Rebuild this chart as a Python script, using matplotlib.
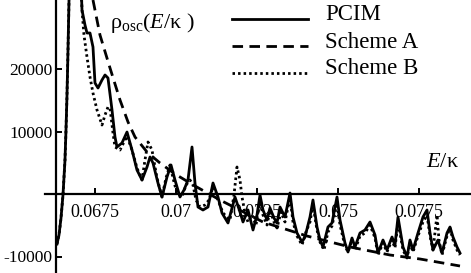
import matplotlib
matplotlib.use("Agg")
import matplotlib.pyplot as plt
from matplotlib.lines import Line2D

plt.rcParams['font.family'] = ['Liberation Serif', 'DejaVu Serif']
plt.rcParams['mathtext.fontset'] = 'custom'
plt.rcParams['mathtext.rm'] = 'Liberation Serif'
plt.rcParams['mathtext.it'] = 'Liberation Serif:italic'

# ---- data ----
pcim_x = [0.066327, 0.066389, 0.066451, 0.066512, 0.066574, 0.066605, 0.066636, 0.066667,
          0.066698, 0.066728, 0.066914, 0.067099, 0.067191, 0.067253, 0.067346, 0.067438,
          0.067500, 0.067593, 0.067716, 0.067809, 0.067901, 0.068025, 0.068117, 0.068179,
          0.068333, 0.068488, 0.068642, 0.068796, 0.068951, 0.069105, 0.069198, 0.069290,
          0.069444, 0.069568, 0.069722, 0.069846, 0.069969, 0.070123, 0.070247, 0.070370,
          0.070494, 0.070586, 0.070679, 0.070833, 0.070988, 0.071142, 0.071296, 0.071420,
          0.071605, 0.071821, 0.071975, 0.072068, 0.072222, 0.072377, 0.072500, 0.072593,
          0.072685, 0.072809, 0.072901, 0.073025, 0.073117, 0.073210, 0.073364, 0.073519,
          0.073611, 0.073735, 0.073889, 0.073981, 0.074136, 0.074228, 0.074352, 0.074444,
          0.074537, 0.074691, 0.074815, 0.074969, 0.075062, 0.075216, 0.075309, 0.075432,
          0.075525, 0.075679, 0.075833, 0.075988, 0.076142, 0.076235, 0.076389, 0.076512,
          0.076667, 0.076759, 0.076852, 0.077006, 0.077130, 0.077222, 0.077315, 0.077469,
          0.077623, 0.077747, 0.077840, 0.077932, 0.078086, 0.078210, 0.078364, 0.078457,
          0.078549, 0.078673, 0.078765]
pcim_y = [-8000, -6560, -3840, -160, 5440, 10240, 15840, 23040,
          31040, 40640, 55040, 29440, 27040, 25760, 25760, 23520,
          17760, 16960, 18240, 19040, 18560, 13440, 9120, 7520,
          8160, 9920, 7040, 3840, 2240, 4320, 5920, 4960,
          1760, -480, 2720, 4640, 2240, -480, 640, 2240,
          7520, 1760, -2080, -2560, -2080, 1760, -480, -3040,
          -4640, -480, -2880, -4480, -2560, -5760, -3360, -160,
          -2560, -4160, -2240, -3840, -4640, -2080, -3680, 160,
          -3680, -6240, -7680, -6880, -3680, -960, -5280, -7360,
          -8480, -5280, -4640, -480, -4160, -7840, -9280, -7040,
          -8480, -6240, -5760, -4480, -6560, -9440, -7360, -8960,
          -6880, -8160, -3680, -8480, -10080, -7360, -8960, -6240,
          -3680, -2560, -6240, -8960, -7360, -9440, -6240, -5280,
          -6880, -8480, -9440]

schemeA_x = [0.067438, 0.067654, 0.067963, 0.068272, 0.068519, 0.068735, 0.069105, 0.069506,
             0.069969, 0.070586, 0.071358, 0.072685, 0.074043, 0.075370, 0.076605, 0.077531,
             0.078765]
schemeA_y = [31040, 25440, 20160, 15040, 11520, 9120, 6720, 4960,
             3200, 1280, -960, -4480, -6720, -8480, -9760, -10400,
             -11520]

schemeB_x = [0.066327, 0.066389, 0.066451, 0.066512, 0.066574, 0.066605, 0.066636, 0.066667,
             0.066698, 0.066728, 0.066914, 0.067099, 0.067160, 0.067253, 0.067346, 0.067438,
             0.067562, 0.067716, 0.067809, 0.067901, 0.067963, 0.068056, 0.068117, 0.068272,
             0.068395, 0.068488, 0.068642, 0.068796, 0.068951, 0.069043, 0.069136, 0.069259,
             0.069414, 0.069568, 0.069691, 0.069815, 0.069938, 0.070031, 0.070185, 0.070309,
             0.070432, 0.070525, 0.070617, 0.070741, 0.070895, 0.071019, 0.071142, 0.071296,
             0.071451, 0.071667, 0.071790, 0.071883, 0.071975, 0.072037, 0.072130, 0.072222,
             0.072346, 0.072469, 0.072593, 0.072685, 0.072809, 0.072901, 0.073025, 0.073117,
             0.073241, 0.073364, 0.073519, 0.073611, 0.073735, 0.073889, 0.074012, 0.074136,
             0.074228, 0.074352, 0.074444, 0.074568, 0.074691, 0.074815, 0.074969, 0.075062,
             0.075216, 0.075309, 0.075432, 0.075525, 0.075679, 0.075833, 0.075988, 0.076142,
             0.076235, 0.076389, 0.076512, 0.076667, 0.076759, 0.076852, 0.077006, 0.077130,
             0.077222, 0.077315, 0.077469, 0.077623, 0.077747, 0.077840, 0.077932, 0.078056,
             0.078117, 0.078210, 0.078364, 0.078457, 0.078549, 0.078673, 0.078765]
schemeB_y = [-8000, -6560, -3840, -160, 5440, 10240, 15840, 23040,
             31040, 40640, 55040, 29440, 25440, 21920, 18720, 16160,
             13440, 11040, 12640, 13920, 13760, 9760, 7520, 7040,
             8320, 9280, 7040, 4160, 2240, 5440, 8320, 7040,
             2560, -480, 2560, 4640, 1920, 160, -480, 1440,
             2240, 1440, -960, -2080, -1760, -960, 1120, -960,
             -3040, -4160, -160, 4320, 2240, -480, -3040, -4480,
             -3360, -4960, -960, -3360, -4960, -2560, -4480, -5440,
             -2880, -4480, -480, -4480, -6720, -8160, -6080, -4480,
             -1760, -5760, -7680, -8960, -6080, -5120, -1440, -4960,
             -8320, -9280, -7360, -8960, -6720, -6240, -4960, -7040,
             -9760, -7840, -9280, -7360, -8640, -4480, -8960, -10240,
             -7840, -9280, -6720, -4480, -3360, -6720, -8960, -3360,
             -7360, -9760, -6720, -5440, -7360, -8960, -9760]

x_ticks = [0.0675, 0.07, 0.0725, 0.075, 0.0775]
x_tick_labels = ['0.0675', '0.07', '0.0725', '0.075', '0.0775']
y_ticks = [-10000, 10000, 20000]
y_tick_labels = ['-10000', '10000', '20000']
series_names = ['PCIM', 'Scheme A', 'Scheme B']

# ---- figure ----
fig = plt.figure(figsize=(4.71, 2.73), dpi=100)
ax = fig.add_axes([45/471, 0, 426/471, 1])
ax.set_xlim(0.065957, 0.079105)
ax.set_ylim(-12640, 31040)

styles = [dict(ls='-', lw=2.0),
          dict(ls=(0, (3.8, 2.3)), lw=2.0),
          dict(ls=(0, (0.9, 1.1)), lw=2.0)]
ax.plot(pcim_x, pcim_y, color='black', **styles[0])
ax.plot(schemeA_x, schemeA_y, color='black', **styles[1])
ax.plot(schemeB_x, schemeB_y, color='black', **styles[2])

for s in ['top', 'right']:
    ax.spines[s].set_visible(False)
ax.spines['left'].set_position(('data', 0.0663))
ax.spines['bottom'].set_position(('data', 0))
ax.spines['left'].set_linewidth(1.6)
ax.spines['bottom'].set_linewidth(1.6)

ax.set_xticks(x_ticks)
ax.set_xticklabels(x_tick_labels)
ax.set_yticks(y_ticks)
ax.set_yticklabels(y_tick_labels)
ax.tick_params(axis='x', direction='in', length=4, width=1.4, pad=7.5, labelsize=13)
ax.tick_params(axis='y', direction='in', length=4.5, width=1.4, pad=2.5, labelsize=12.5)
ax.patch.set_visible(False)

# axis annotation texts
ax.text(0.1526, 0.916, r'$\mathrm{ρ}_{\mathrm{osc}}(E/\mathrm{κ}\ )$', transform=ax.transAxes,
        fontsize=16, ha='left', va='center')
ax.text(0.934, 0.403, r'$E/\mathrm{κ}$', transform=ax.transAxes,
        fontsize=16, ha='center', va='center')

# legend drawn manually
leg_x0, leg_x1, leg_tx = 0.439, 0.617, 0.657
leg_ys = [1 - 15/273, 1 - 42/273, 1 - 69/273]
for name, st, yy in zip(series_names, styles, leg_ys):
    ax.add_line(Line2D([leg_x0, leg_x1], [yy - 4/273, yy - 4/273], color='black',
                       transform=ax.transAxes, **st))
    ax.text(leg_tx, yy, name, transform=ax.transAxes, fontsize=16.5, ha='left', va='center')

fig.savefig('out.png', dpi=100)
